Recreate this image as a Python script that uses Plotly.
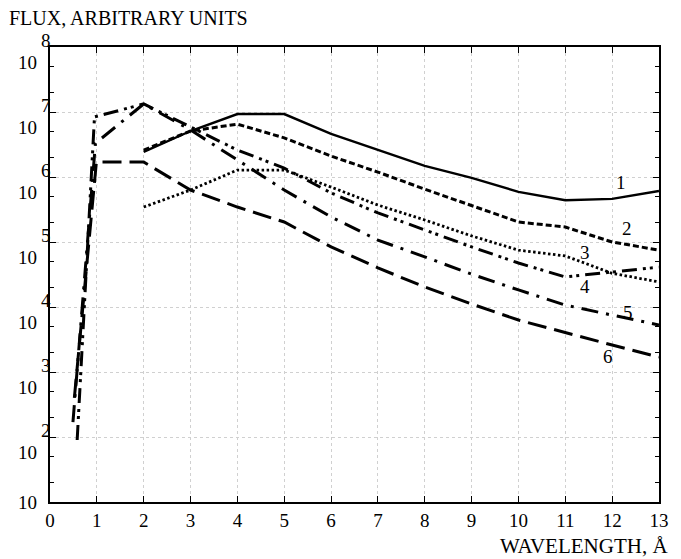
import plotly.graph_objects as go

# ---- data ----
wl_1 = [2, 3, 4, 5, 6, 7, 8, 9, 10, 11, 12, 13]
flux_1 = [2.43e6, 5.1e6, 9.3e6, 9.3e6, 4.6e6, 2.6e6, 1.48e6, 9.7e5, 5.9e5, 4.4e5, 4.6e5, 6.1e5]

wl_2 = [2, 3, 4, 5, 6, 7, 8, 9, 10, 11, 12, 13]
flux_2 = [2.6e6, 5.1e6, 6.5e6, 4.0e6, 2.1e6, 1.19e6, 6.5e5, 3.6e5, 2.03e5, 1.70e5, 1.0e5, 7.5e4]

wl_3 = [2, 3, 4, 5, 6, 7, 8, 9, 10, 11, 12, 13]
flux_3 = [3.45e5, 6.3e5, 1.28e6, 1.28e6, 7.0e5, 3.7e5, 2.18e5, 1.24e5, 7.5e4, 6.1e4, 3.3e4, 2.43e4]

wl_4 = [0.58, 0.95, 2, 3, 4, 5, 6, 7, 8, 9, 10, 11, 12, 13]
flux_4 = [90, 8.4e6, 1.33e7, 5.9e6, 2.6e6, 1.37e6, 5.7e5, 2.8e5, 1.53e5, 8.4e4, 4.75e4, 2.9e4, 3.45e4, 4.1e4]

wl_5 = [0.49, 0.97, 2, 3, 4, 5, 6, 7, 8, 9, 10, 11, 12, 13]
flux_5 = [170, 3.3e6, 1.33e7, 5.3e6, 1.83e6, 6.3e5, 2.43e5, 1.07e5, 5.9e4, 3.2e4, 1.83e4, 1.07e4, 7.5e3, 5.3e3]

wl_6 = [0.52, 0.99, 2, 3, 4, 5, 6, 7, 8, 9, 10, 11, 12, 13]
flux_6 = [400, 1.7e6, 1.7e6, 6.3e5, 3.45e5, 2.03e5, 8.4e4, 4.0e4, 2.03e4, 1.11e4, 6.3e3, 4.0e3, 2.6e3, 1.7e3]

curve_labels = ["1", "2", "3", "4", "5", "6"]
label_x = [12.18, 12.31, 11.41, 11.41, 12.33, 11.91]
label_logy = [5.91, 5.215, 4.846, 4.308, 3.923, 3.231]

x_ticks = list(range(0, 14))
y_decades = [1, 2, 3, 4, 5, 6, 7, 8]

FONT = "Liberation Serif"

series = [
    (wl_1, flux_1, "solid", 2.4),
    (wl_2, flux_2, "6px,3px", 3.0),
    (wl_3, flux_3, "2.5px,2.5px", 2.8),
    (wl_4, flux_4, "15px,6px,3px,4px,3px,6px", 3.0),
    (wl_5, flux_5, "17px,8px,3px,8px", 3.0),
    (wl_6, flux_6, "19px,8px", 3.0),
]

fig = go.Figure()
for i, (xs, ys, dash, w) in enumerate(series):
    fig.add_trace(go.Scatter(x=xs, y=ys, mode="lines", name=curve_labels[i],
                             line=dict(color="black", width=w, dash=dash),
                             showlegend=False))

minor_vals = []
for d in range(1, 8):
    minor_vals += [2 * 10 ** d, 5 * 10 ** d]

fig.update_xaxes(range=[0, 13], tickvals=x_ticks, ticks="inside", ticklen=6,
                 tickwidth=1.2, tickcolor="black",
                 showline=True, linecolor="black", linewidth=1.5, mirror="ticks",
                 showgrid=True, gridcolor="#d0d0d0", griddash="dot", gridwidth=1,
                 zeroline=False, tickfont=dict(family=FONT, size=19, color="black"))

fig.update_yaxes(type="log", range=[1, 8], tickvals=[10 ** d for d in y_decades],
                 showticklabels=False, ticks="inside", ticklen=6, tickwidth=1.2,
                 tickcolor="black",
                 showline=True, linecolor="black", linewidth=1.5, mirror="ticks",
                 showgrid=True, gridcolor="#d0d0d0", griddash="dot", gridwidth=1,
                 zeroline=False,
                 minor=dict(tickvals=minor_vals, ticks="inside", ticklen=4,
                            tickcolor="black", showgrid=False))

annotations = []
for d in y_decades:
    if d == 1:
        annotations.append(dict(x=0, xref="paper", y=d, yref="y", text="10",
                                xanchor="right", yanchor="middle", xshift=-11, yshift=0,
                                showarrow=False, font=dict(family=FONT, size=19, color="black")))
    else:
        annotations.append(dict(x=0, xref="paper", y=d, yref="y", text="10",
                                xanchor="right", yanchor="middle", xshift=-11, yshift=-15,
                                showarrow=False, font=dict(family=FONT, size=19, color="black")))
        annotations.append(dict(x=0, xref="paper", y=d, yref="y", text=str(d),
                                xanchor="left", yanchor="middle", xshift=-11, yshift=7,
                                showarrow=False, font=dict(family=FONT, size=19, color="black")))

for t, lx, ly in zip(curve_labels, label_x, label_logy):
    annotations.append(dict(x=lx, y=ly, xref="x", yref="y", text=t, showarrow=False,
                            font=dict(family=FONT, size=19, color="black")))

annotations.append(dict(x=0, xref="paper", y=1, yref="paper", text="FLUX, ARBITRARY UNITS",
                        xanchor="left", yanchor="middle", xshift=-43, yshift=29,
                        showarrow=False, font=dict(family=FONT, size=20, color="black")))
annotations.append(dict(x=1, xref="paper", y=0, yref="paper", text="WAVELENGTH, Å",
                        xanchor="right", yanchor="middle", xshift=11, yshift=-44,
                        showarrow=False, font=dict(family=FONT, size=21, color="black")))

fig.update_layout(width=681, height=559, margin=dict(l=50, r=12, t=47, b=57),
                  paper_bgcolor="white", plot_bgcolor="white",
                  annotations=annotations)

fig.write_html("out.html")
